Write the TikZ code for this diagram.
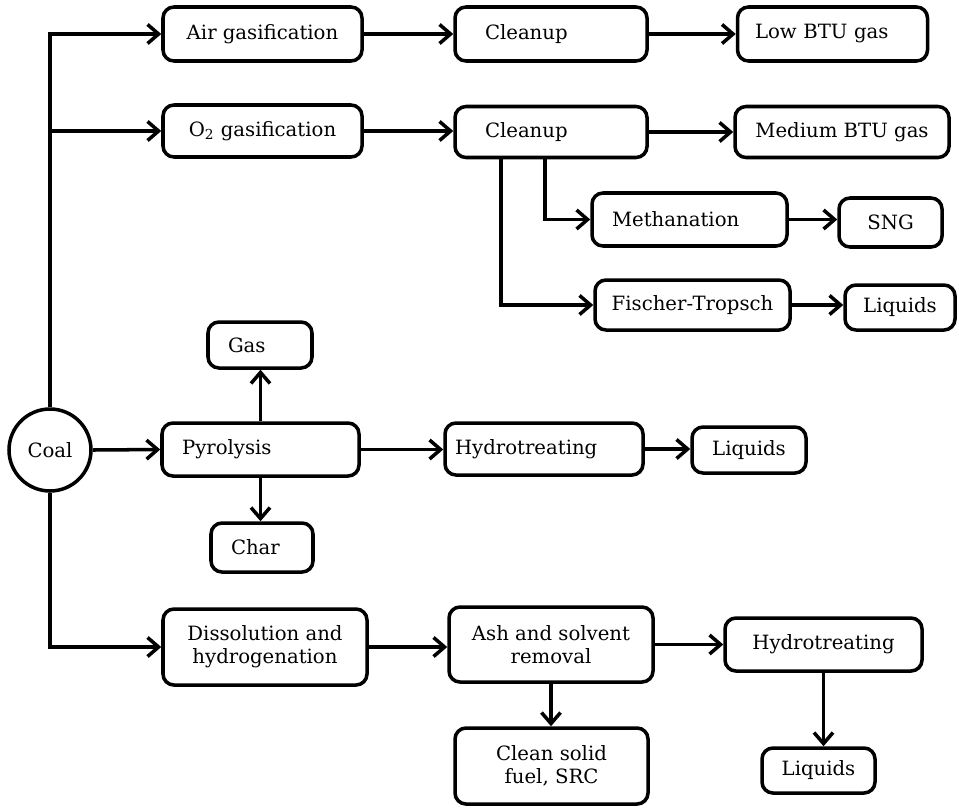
\documentclass[tikz,border=0pt]{standalone}
\usepackage{fontspec}
\setmainfont{DejaVu Serif}
\usetikzlibrary{arrows.meta,positioning,calc}

\begin{document}
\begin{tikzpicture}[
    stage/.style={
      draw,
      rounded corners=0.22cm,
      line width=2pt,
      inner xsep=0.4cm,
      inner ysep=0pt,
      font=\fontsize{11.2}{13}\selectfont
    },
    lstage/.style={stage,align=left},
    cstage/.style={stage,align=center},
    arrow/.style={
      -{Straight Barb[length=2.2mm,width=3.8mm]},
      line width=2pt
    }]

    \useasboundingbox (0,0) rectangle (19.18,-16.16);

    % Source
    \node[draw,circle,line width=2pt,minimum size=1.64cm,inner sep=0pt,
          font=\fontsize{11.2}{13}\selectfont] (coal) at (1.00,-9.00) {Coal};

    % Row 1: air gasification
    \node[cstage,minimum width=3.98cm,minimum height=1.08cm] (air) at (5.25,-0.68) {Air gasification};
    \node[lstage,text width=3.04cm,minimum height=1.08cm] (clean1) at (11.02,-0.68) {\hspace{0.2cm}Cleanup};
    \node[lstage,text width=3.10cm,minimum height=1.08cm,inner xsep=0.35cm] (lowbtu) at (16.65,-0.68) {Low BTU gas};

    % Row 2: oxygen gasification
    \node[cstage,minimum width=3.98cm,minimum height=1.04cm] (oxy) at (5.25,-2.62) {O\textsubscript{2} gasification};
    \node[lstage,text width=3.04cm,minimum height=1.02cm] (clean2) at (11.02,-2.64) {\hspace{0.2cm}Cleanup};
    \node[cstage,minimum width=4.28cm,minimum height=1.02cm,inner xsep=0.2cm] (medbtu) at (16.84,-2.64) {Medium BTU gas};
    \node[lstage,text width=3.10cm,minimum height=1.06cm] (meth) at (13.79,-4.39) {Methanation};
    \node[cstage,minimum width=2.06cm,minimum height=0.98cm] (sng) at (17.81,-4.45) {SNG};
    \node[cstage,minimum width=3.90cm,minimum height=1.00cm,inner xsep=0.2cm] (ft) at (13.85,-6.10) {Fischer-Tropsch};
    \node[cstage,minimum width=2.20cm,minimum height=0.90cm,inner xsep=0.2cm] (liq1) at (18.00,-6.15) {Liquids};

    % Row 3: pyrolysis
    \node[lstage,text width=1.28cm,minimum height=0.92cm] (gas) at (5.20,-6.90) {Gas};
    \node[lstage,text width=3.14cm,minimum height=1.06cm] (pyro) at (5.21,-8.99) {Pyrolysis};
    \node[lstage,text width=3.56cm,minimum height=1.04cm,inner xsep=0.2cm] (hydro1) at (10.88,-8.98) {Hydrotreating};
    \node[cstage,minimum width=2.28cm,minimum height=0.92cm,inner xsep=0.2cm] (liq2) at (14.98,-9.00) {Liquids};
    \node[lstage,text width=1.24cm,minimum height=0.98cm] (char) at (5.24,-10.95) {Char};

    % Row 4: dissolution
    \node[cstage,minimum width=4.08cm,minimum height=1.52cm,inner xsep=0.2cm] (diss) at (5.30,-12.94) {Dissolution and\\hydrogenation};
    \node[cstage,minimum width=4.08cm,minimum height=1.50cm,inner xsep=0.2cm] (ash) at (11.02,-12.89) {Ash and solvent\\removal};
    \node[cstage,minimum width=3.94cm,minimum height=1.06cm] (hydro2) at (16.47,-12.89) {Hydrotreating};
    \node[cstage,minimum width=3.86cm,minimum height=1.52cm] (solid) at (11.03,-15.32) {Clean solid\\fuel, SRC};
    \node[cstage,minimum width=2.26cm,minimum height=0.90cm,inner xsep=0.2cm] (liq3) at (16.37,-15.41) {Liquids};

    % Trunk from coal
    \draw[arrow] (coal.north) |- (air.west);
    \draw[arrow] (coal.north |- oxy.west) -- (oxy.west);
    \draw[arrow] (coal.east) -- (pyro.west);
    \draw[arrow] (coal.south) |- (diss.west);

    % Gasification chains
    \draw[arrow] (air.east) -- (clean1.west);
    \draw[arrow] (clean1.east) -- (lowbtu.west);
    \draw[arrow] (oxy.east) -- (oxy.east -| clean2.west);
    \draw[arrow] (clean2.east) -- (clean2.east -| medbtu.west);
    \draw[arrow] ([xshift=-0.12cm]clean2.south) |- (meth.west);
    \draw[arrow] ([xshift=-1.00cm]clean2.south) |- (ft.west);
    \draw[arrow] (meth.east) -- (meth.east -| sng.west);
    \draw[arrow] (ft.east) -- (ft.east -| liq1.west);

    % Pyrolysis chain
    \draw[arrow] (pyro.north) -- (pyro.north |- gas.south);
    \draw[arrow] (pyro.south) -- (pyro.south |- char.north);
    \draw[arrow] (pyro.east) -- (pyro.east -| hydro1.west);
    \draw[arrow] (hydro1.east) -- (hydro1.east -| liq2.west);

    % Liquefaction chain
    \draw[arrow] (diss.east) -- (diss.east -| ash.west);
    \draw[arrow] (ash.east) -- (ash.east -| hydro2.west);
    \draw[arrow] (ash.south) -- (ash.south |- solid.north);
    \draw[arrow] (hydro2.south) -- (hydro2.south |- liq3.north);
  \end{tikzpicture}
\end{document}
